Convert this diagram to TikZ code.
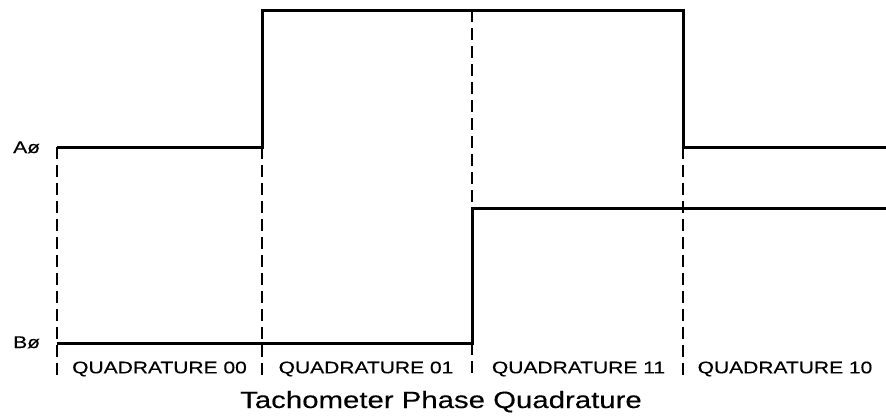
\documentclass[tikz,border=0pt]{standalone}
\usepackage{fontspec}
\newfontfamily\lblfont[FakeStretch=1.25,FakeBold=0.25]{Liberation Sans}
\begin{document}
\begin{tikzpicture}[x=1pt,y=-1pt,
  signal/.style={line width=3pt,line join=miter},
  guide/.style={line width=1.7pt,dash pattern=on 12pt off 6pt},
  quad/.style={inner sep=0pt,anchor=base,font=\lblfont\fontsize{16.8}{18}\selectfont},
  sig/.style={inner sep=0pt,anchor=base west,font=\lblfont\fontsize{16.8}{18}\selectfont},
  ttl/.style={inner sep=0pt,anchor=base,font=\lblfont\fontsize{23.5}{26}\selectfont}]
\useasboundingbox (0,0) rectangle (886,416);
% key coordinates
\coordinate (a0) at (57,147);
\coordinate (a1) at (262,147);
\coordinate (a2) at (262,10);
\coordinate (a3) at (683,10);
\coordinate (a4) at (683,147);
\coordinate (a5) at (886,147);
\coordinate (b0) at (57,343);
\coordinate (b1) at (472,343);
\coordinate (b2) at (472,208);
\coordinate (b3) at (886,208);
\coordinate (t2) at (472,10);
\coordinate (e0) at (57,378);
\coordinate (e1) at (262,378);
\coordinate (e2) at (472,378);
\coordinate (e3) at (683,378);
% guides
\draw[guide] (a0) -- (e0);
\draw[guide] (a1) -- (e1);
\draw[guide] (t2) -- (b2);
\draw[guide] (b1) -- (e2);
\draw[guide] (a4) -- (e3);
% signals
\draw[signal] (a0) -- (a1) -- (a2) -- (a3) -- (a4) -- (a5);
\draw[signal] (b0) -- (b1) -- (b2) -- (b3);
% labels
\node[sig] (la) at (13,153) {Aø};
\node[sig] (lb) at (13,348) {Bø};
\node[quad] (q0) at (159.5,373.3) {QUADRATURE 00};
\node[quad] (q1) at (366,373.3) {QUADRATURE 01};
\node[quad] (q2) at (578.5,373.3) {QUADRATURE 11};
\node[quad] (q3) at (785,373.3) {QUADRATURE 10};
\node[ttl] (title) at (441,408) {Tachometer Phase Quadrature};
\end{tikzpicture}
\end{document}
